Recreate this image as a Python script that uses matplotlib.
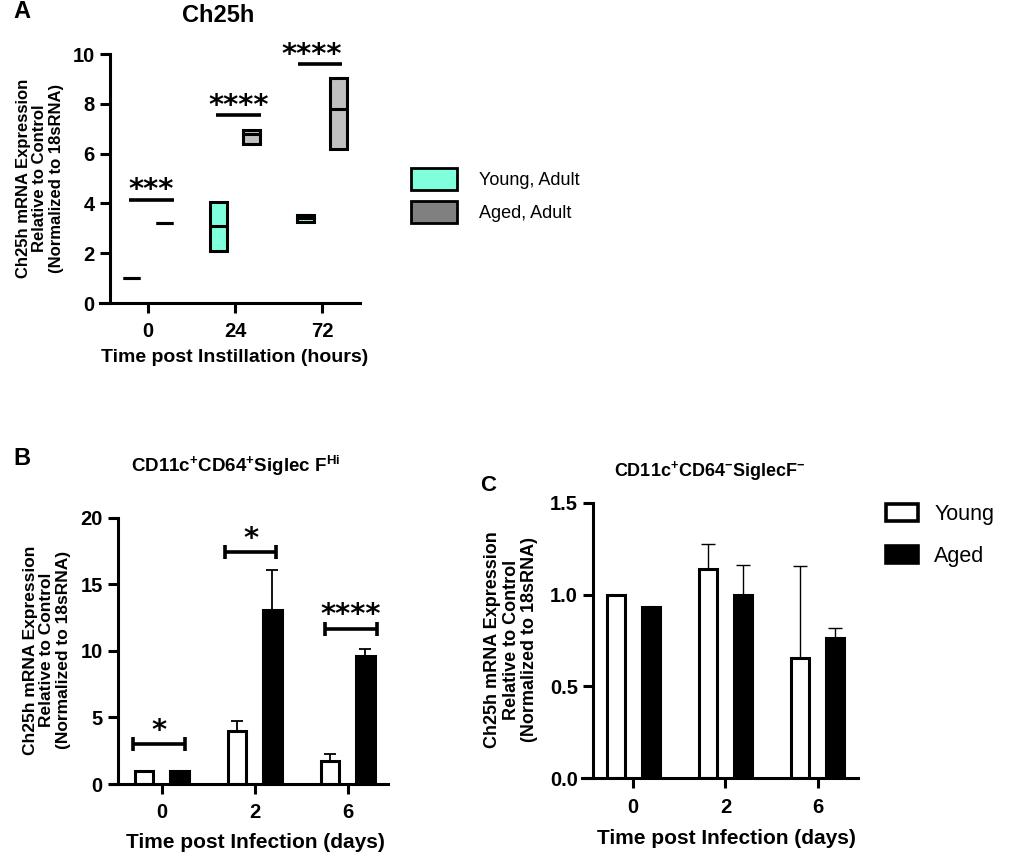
import matplotlib
matplotlib.use("Agg")
import matplotlib.pyplot as plt
from matplotlib.patches import Patch
import numpy as np

# ---- data ----
hours = ["0", "24", "72"]
young_min = [1.0, 2.1, 3.25]
young_max = [1.0, 4.05, 3.55]
young_med = [1.0, 3.08, 3.4]
aged_min = [3.2, 6.4, 6.17]
aged_max = [3.2, 6.95, 9.05]
aged_med = [3.2, 6.8, 7.78]
sig_a_y = [4.15, 7.55, 9.6]
sig_a = ["***", "****", "****"]

days = ["0", "2", "6"]
young_b = [1.0, 4.0, 1.7]
young_b_err = [0.0, 0.75, 0.55]
aged_b = [0.95, 13.1, 9.6]
aged_b_err = [0.0, 3.0, 0.55]
sig_b_y = [2.98, 17.4, 11.65]
sig_b = ["*", "*", "****"]

young_c = [1.0, 1.14, 0.655]
young_c_err = [0.0, 0.135, 0.5]
aged_c = [0.934, 0.995, 0.765]
aged_c_err = [0.0, 0.165, 0.055]

W, H = 1024, 868
LW = 2.2
TEAL = "#80FFDC"
LIGHTGRAY = "#C0C0C0"
GRAY = "#808080"

plt.rcParams['font.family'] = ['Liberation Sans', 'DejaVu Sans']
plt.rcParams['mathtext.fontset'] = 'custom'
plt.rcParams['mathtext.rm'] = 'Liberation Sans:bold'
plt.rcParams['mathtext.it'] = 'Liberation Sans:bold'
plt.rcParams['mathtext.bf'] = 'Liberation Sans:bold'


def fx(x):
    return x / W


def fy(y):
    return 1 - y / H


def make_axes(fig, left, right, top, bottom):
    return fig.add_axes([fx(left), fy(bottom), (right - left) / W, (bottom - top) / H])


def style_axes(ax, spine_x):
    ax.spines['top'].set_visible(False)
    ax.spines['right'].set_visible(False)
    ax.spines['left'].set_position(('data', spine_x))
    ax.spines['left'].set_linewidth(LW)
    ax.spines['bottom'].set_linewidth(LW)
    ax.tick_params(width=LW, length=7, labelsize=14.5, pad=4)
    ax.tick_params(axis='x', pad=7)
    for lbl in ax.get_xticklabels() + ax.get_yticklabels():
        lbl.set_fontweight('bold')
    ax.set_facecolor('none')


def stars(ax, x, y, s, dx):
    ax.annotate(s, (x, y), xytext=(dx, 1), textcoords='offset points',
                ha='center', va='baseline', fontsize=21, fontweight='bold',
                family='DejaVu Sans', annotation_clip=False)


fig = plt.figure(figsize=(W / 100, H / 100), dpi=100)

# ---- panel A ----
x = np.arange(len(hours))
off, w = 0.19, 0.2
ax = make_axes(fig, 100, 360, 54, 303)
ymin = np.array(young_min)
ax.bar(x - off, np.array(young_max) - ymin, w, bottom=ymin, color=TEAL,
       edgecolor='black', linewidth=LW)
ax.hlines(young_med, x - off - w / 2, x - off + w / 2, colors='black', linewidth=LW)
amin = np.array(aged_min)
ax.bar(x + off, np.array(aged_max) - amin, w, bottom=amin, color=LIGHTGRAY,
       edgecolor='black', linewidth=LW)
ax.hlines(aged_med, x + off - w / 2, x + off + w / 2, colors='black', linewidth=LW)
line_l = [-0.22, -0.22, -0.28]
line_r = [0.30, 0.30, 0.23]
star_dx = [3, 3, -3]
for i in range(len(hours)):
    ax.hlines(sig_a_y[i], x[i] + line_l[i], x[i] + line_r[i], colors='black', linewidth=2.6)
    stars(ax, x[i] + (line_l[i] + line_r[i]) / 2, sig_a_y[i], sig_a[i], star_dx[i] - 3)
ax.set_xlim(-0.552, 2.437)
ax.set_ylim(0, 10)
ax.set_yticks([0, 2, 4, 6, 8, 10])
ax.set_xticks(x)
ax.set_xticklabels(hours)
style_axes(ax, -0.437)

fig.text(fx(22), fy(12), "A", fontsize=17, fontweight='bold', ha='center', va='center')
fig.text(fx(218), fy(16), "Ch25h", fontsize=17, fontweight='bold', ha='center', va='center')
fig.text(fx(235), fy(357), "Time post Instillation (hours)", fontsize=14, fontweight='bold',
         ha='center', va='center')
fig.text(fx(40), fy(178), "Ch25h mRNA Expression\nRelative to Control\n(Normalized to 18sRNA)",
         fontsize=12, fontweight='bold', rotation=90, ha='center', va='center',
         linespacing=1.15)
fig.legend(handles=[Patch(facecolor=TEAL, edgecolor='black', linewidth=2),
                    Patch(facecolor=GRAY, edgecolor='black', linewidth=2)],
           labels=["Young, Adult", "Aged, Adult"], loc='upper left',
           bbox_to_anchor=(fx(411), fy(168)), frameon=False, fontsize=13,
           handlelength=2.55, handleheight=1.5, labelspacing=0.6,
           handletextpad=1.2, borderpad=0, borderaxespad=0)

# ---- panel B ----
x = np.arange(len(days))
ax = make_axes(fig, 110, 388, 517.7, 784)
ax.bar(x - off, young_b, w, color='white', edgecolor='black', linewidth=LW, zorder=2)
ax.bar(x + off, aged_b, w, color='black', edgecolor='black', linewidth=LW, zorder=2)
for i in range(len(days)):
    if young_b_err[i] > 0:
        ax.errorbar(x[i] - off, young_b[i], yerr=[[0], [young_b_err[i]]], fmt='none',
                    ecolor='black', elinewidth=1.3, capsize=4.5, capthick=1.3, zorder=3)
    if aged_b_err[i] > 0:
        ax.errorbar(x[i] + off, aged_b[i], yerr=[[0], [aged_b_err[i]]], fmt='none',
                    ecolor='black', elinewidth=1.3, capsize=4.5, capthick=1.3, zorder=1)
br_l = [-0.305, -0.32, -0.245]
br_r = [0.25, 0.23, 0.31]
for i in range(len(days)):
    y = sig_b_y[i]
    ax.hlines(y, x[i] + br_l[i], x[i] + br_r[i], colors='black', linewidth=2.6)
    ax.vlines([x[i] + br_l[i], x[i] + br_r[i]], y - 0.53, y + 0.53, colors='black', linewidth=2.6)
    stars(ax, x[i] + (br_l[i] + br_r[i]) / 2, y + 0.3, sig_b[i], 0)
ax.set_xlim(-0.556, 2.433)
ax.set_ylim(0, 20)
ax.set_yticks([0, 5, 10, 15, 20])
ax.set_xticks(x)
ax.set_xticklabels(days)
style_axes(ax, -0.47)

fig.text(fx(22), fy(459), "B", fontsize=17, fontweight='bold', ha='center', va='center')
fig.text(fx(236), fy(466), r"CD11c$^{+}$CD64$^{+}$Siglec F$^{\mathrm{Hi}}$", fontsize=13.5,
         fontweight='bold', ha='center', va='center')
fig.text(fx(255), fy(843), "Time post Infection (days)", fontsize=15, fontweight='bold',
         ha='center', va='center')
fig.text(fx(47), fy(650), "Ch25h mRNA Expression\nRelative to Control\n(Normalized to 18sRNA)",
         fontsize=12.5, fontweight='bold', rotation=90, ha='center', va='center',
         linespacing=1.15)

# ---- panel C ----
ax = make_axes(fig, 582, 858, 502.7, 778.3)
ax.bar(x - off, young_c, w, color='white', edgecolor='black', linewidth=LW, zorder=2)
ax.bar(x + off, aged_c, w, color='black', edgecolor='black', linewidth=LW, zorder=2)
for i in range(len(days)):
    if young_c_err[i] > 0:
        ax.errorbar(x[i] - off, young_c[i], yerr=[[0], [young_c_err[i]]], fmt='none',
                    ecolor='black', elinewidth=1.0, capsize=5, capthick=1.0, zorder=3)
    if aged_c_err[i] > 0:
        ax.errorbar(x[i] + off, aged_c[i], yerr=[[0], [aged_c_err[i]]], fmt='none',
                    ecolor='black', elinewidth=1.0, capsize=5, capthick=1.0, zorder=1)
ax.set_xlim(-0.556, 2.437)
ax.set_ylim(0, 1.5)
ax.set_yticks([0.0, 0.5, 1.0, 1.5])
ax.set_yticklabels(["0.0", "0.5", "1.0", "1.5"])
ax.set_xticks(x)
ax.set_xticklabels(days)
style_axes(ax, -0.434)

fig.text(fx(488), fy(486), "C", fontsize=16, fontweight='bold', ha='center', va='center')
fig.text(fx(710), fy(471), r"CD11c$^{+}$CD64$^{-}$SiglecF$^{-}$", fontsize=13,
         fontweight='bold', ha='center', va='center')
fig.text(fx(726), fy(838), "Time post Infection (days)", fontsize=15, fontweight='bold',
         ha='center', va='center')
fig.text(fx(511), fy(640), "Ch25h mRNA Expression\nRelative to Control\n(Normalized to 18sRNA)",
         fontsize=13, fontweight='bold', rotation=90, ha='center', va='center',
         linespacing=1.15)
fig.legend(handles=[Patch(facecolor='white', edgecolor='black', linewidth=2.6),
                    Patch(facecolor='black', edgecolor='black', linewidth=2.6)],
           labels=["Young", "Aged"], loc='upper left',
           bbox_to_anchor=(fx(886), fy(504)), frameon=False, fontsize=15.5,
           handlelength=1.5, handleheight=0.85, labelspacing=0.98,
           handletextpad=0.75, borderpad=0, borderaxespad=0)

fig.savefig("out.png", dpi=100)
